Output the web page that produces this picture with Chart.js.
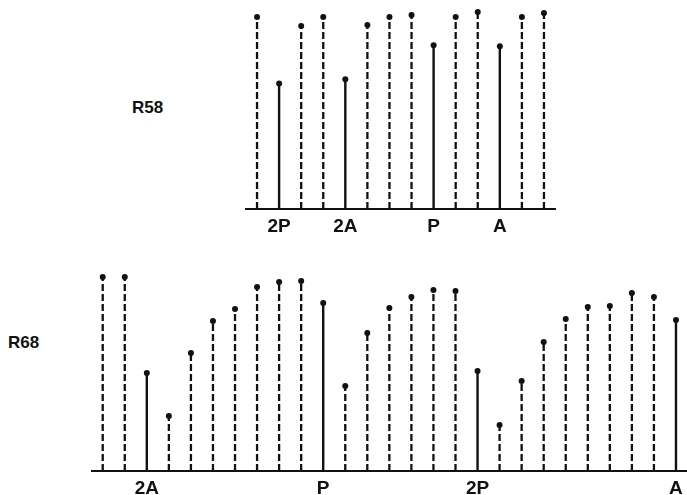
<!DOCTYPE html>
<html>
<head>
<meta charset="utf-8">
<script src="https://cdn.jsdelivr.net/npm/chart.js@4"></script>
<style>
  body { margin: 0; background: #fff; width: 687px; height: 495px; position: relative; overflow: hidden; }
  .box { position: absolute; }
  .tag { position: absolute; font: bold 17px "Liberation Sans", Arial, sans-serif; color: #111; }
</style>
</head>
<body>
<div class="tag" style="left:132px; top:98px;">R58</div>
<div class="tag" style="left:8px; top:333px;">R68</div>
<div class="box" style="left:236px; top:0px; width:330px; height:236px;"><canvas id="top"></canvas></div>
<div class="box" style="left:81px; top:260px; width:606px; height:238px;"><canvas id="bottom"></canvas></div>
<script>
// R58 stems (height of each stem, kind: d = dashed, s = solid)
const r58Values = [191, 125, 182, 191, 129, 183, 191, 193, 163, 191, 196, 162, 191, 195];
const r58Kind   = ['d', 's', 'd', 'd', 's', 'd', 'd', 'd', 's', 'd', 'd', 's', 'd', 'd'];
const r58Labels = ['', '2P', '', '', '2A', '', '', '', 'P', '', '', 'A', '', ''];

// R68 stems
const r68Values = [194, 194, 98, 55, 118, 150, 162, 184, 189, 190, 168, 85, 138, 163,
                   174, 181, 180, 100, 46, 90, 129, 152, 164, 165, 178, 174, 151];
const r68Kind   = ['d', 'd', 's', 'd', 'd', 'd', 'd', 'd', 'd', 'd', 's', 'd', 'd', 'd',
                   'd', 'd', 'd', 's', 'd', 'd', 'd', 'd', 'd', 'd', 'd', 'd', 's'];
const r68Labels = ['', '', '2A', '', '', '', '', '', '', '', 'P', '', '', '',
                   '', '', '', '2P', '', '', '', '', '', '', '', '', 'A'];

function stemChart(id, values, kind, labels, padding) {
  // each stem = baseline point, top point, gap
  const pts = [];
  values.forEach((v, i) => {
    pts.push({ x: i + 1, y: 0 });
    pts.push({ x: i + 1, y: v });
    pts.push({ x: i + 1, y: null });
  });

  new Chart(document.getElementById(id), {
    type: 'scatter',
    data: {
      datasets: [{
        data: pts,
        showLine: true,
        spanGaps: false,
        clip: false,
        borderColor: '#111',
        borderWidth: 2,
        segment: {
          borderDash: ctx => kind[Math.floor(ctx.p0DataIndex / 3)] === 'd' ? [7, 3] : undefined,
          borderWidth: ctx => kind[Math.floor(ctx.p0DataIndex / 3)] === 'd' ? 2.3 : 2.4
        },
        pointRadius: ctx => ctx.dataIndex % 3 === 1 ? 3 : 0,
        pointBackgroundColor: '#111',
        pointBorderWidth: 0
      }]
    },
    options: {
      responsive: true,
      maintainAspectRatio: false,
      animation: false,
      layout: { padding: padding },
      plugins: { legend: { display: false }, tooltip: { enabled: false } },
      scales: {
        x: {
          type: 'linear',
          min: 0.5,
          max: values.length + 0.5,
          grid: { display: false },
          border: { display: true, color: '#111', width: 2 },
          afterBuildTicks: axis => { axis.ticks = labels.map((l, i) => ({ value: i + 1 })); },
          ticks: {
            autoSkip: false,
            maxRotation: 0,
            padding: 0,
            color: '#111',
            font: { family: '"Liberation Sans", Arial, sans-serif', size: 19, weight: 'bold', lineHeight: 1 },
            callback: v => labels[v - 1]
          }
        },
        y: { display: false, min: 0, max: 200 }
      }
    }
  });
}

stemChart('top', r58Values, r58Kind, r58Labels, { left: 10, right: 11, top: 8, bottom: 0 });
stemChart('bottom', r68Values, r68Kind, r68Labels, { left: 10.7, right: 0, top: 11, bottom: 0 });
</script>
</body>
</html>
